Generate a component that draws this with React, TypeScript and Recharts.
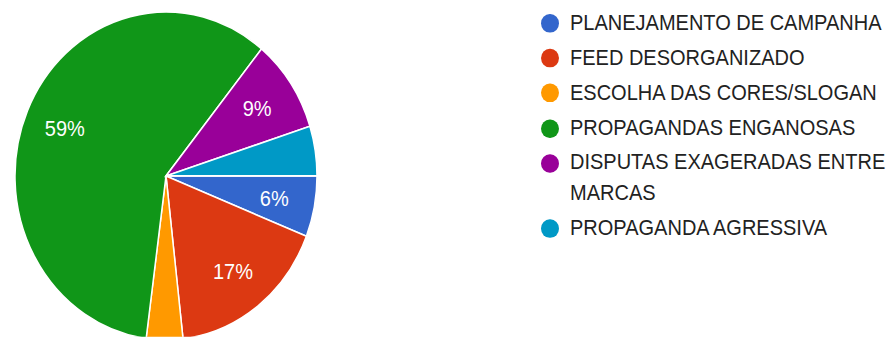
import React from "react";
import { PieChart, Pie, Cell, Legend } from "recharts";

const categories = [
  "PLANEJAMENTO DE CAMPANHA",
  "FEED DESORGANIZADO",
  "ESCOLHA DAS CORES/SLOGAN",
  "PROPAGANDAS ENGANOSAS",
  "DISPUTAS EXAGERADAS ENTRE MARCAS",
  "PROPAGANDA AGRESSIVA",
];
const values = [6, 17.2, 3.9, 58.8, 9.2, 4.9];
const colors = ["#3366cc", "#dc3912", "#ff9900", "#109618", "#990099", "#0099c6"];

const data = categories.map((name, i) => ({ name, value: values[i] }));

const FONT = "'Liberation Sans', Arial, sans-serif";
const RAD = Math.PI / 180;

const renderLabel = (props: any) => {
  const { cx, cy, midAngle, outerRadius, percent } = props;
  const pct = Math.round(percent * 100);
  if (pct < 6) return null;
  const r = outerRadius * 0.73;
  const x = cx + r * Math.cos(-midAngle * RAD);
  const y = cy + r * Math.sin(-midAngle * RAD);
  return (
    <text
      x={x}
      y={y}
      fill="#ffffff"
      fontSize={20}
      fontFamily={FONT}
      textAnchor="middle"
      dominantBaseline="central"
    >
      {pct}%
    </text>
  );
};

const renderLegend = () => {
  return (
    <div style={{ fontFamily: FONT, fontSize: 20, color: "#222222" }}>
      {categories.map((name, i) => (
        <div
          key={name}
          style={{
            display: "flex",
            alignItems: "flex-start",
            lineHeight: "27.6px",
            marginBottom: 4.6,
          }}
        >
          <span
            style={{
              flex: "0 0 auto",
              width: 17.5,
              height: 17,
              borderRadius: "50%",
              background: colors[i],
              marginTop: 5.3,
              marginRight: 11.5,
            }}
          />
          <span style={{ width: 322 }}>{name}</span>
        </div>
      ))}
    </div>
  );
};

export default function App() {
  return (
    <div
      style={{
        position: "absolute",
        left: 0,
        top: 0,
        width: 896,
        height: 337,
        overflow: "hidden",
        background: "#ffffff",
      }}
    >
      <div style={{ transform: "scaleY(1.086)", transformOrigin: "0 0" }}>
        <PieChart width={896} height={310} margin={{ top: 0, right: 0, bottom: 0, left: 0 }}>
          <Pie
            data={data}
            dataKey="value"
            nameKey="name"
            cx={166}
            cy={162}
            outerRadius={151}
            startAngle={0}
            endAngle={-360}
            stroke="#ffffff"
            strokeWidth={1.5}
            labelLine={false}
            label={renderLabel}
            isAnimationActive={false}
          >
            {data.map((d, i) => (
              <Cell key={d.name} fill={colors[i]} />
            ))}
          </Pie>
          <Legend
            layout="vertical"
            align="right"
            verticalAlign="top"
            content={renderLegend}
            wrapperStyle={{ left: 541, top: 7.7, width: 355, right: "auto" }}
          />
        </PieChart>
      </div>
    </div>
  );
}
